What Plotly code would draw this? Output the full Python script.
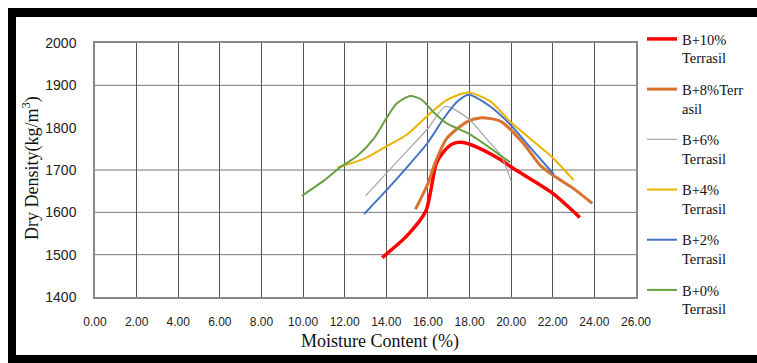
import plotly.graph_objects as go

# ---- data ----
names = ["B+10%<br>Terrasil", "B+8%Terr<br>asil", "B+6%<br>Terrasil",
         "B+4%<br>Terrasil", "B+2%<br>Terrasil", "B+0%<br>Terrasil"]

x_b10 = [13.8, 15.0, 15.9, 16.4, 16.75, 17.2, 17.7, 18.35, 19.5, 20.0, 22.0, 23.3]
y_b10 = [1493, 1545, 1603, 1715, 1743, 1762, 1765, 1754, 1724, 1707, 1645, 1588]

x_b8 = [15.4, 16.0, 16.3, 16.9, 17.85, 18.5, 19.5, 20.6, 21.4, 22.0, 23.0, 23.9]
y_b8 = [1607, 1668, 1711, 1774, 1813, 1823, 1815, 1762, 1711, 1688, 1656, 1621]

x_b6 = [13.0, 14.0, 15.0, 16.0, 16.85, 17.95, 18.8, 19.5, 20.0]
y_b6 = [1639, 1692, 1745, 1798, 1850, 1821, 1774, 1735, 1674]

x_b4 = [11.65, 12.0, 13.0, 13.94, 15.0, 16.0, 16.9, 17.95, 19.0, 20.0, 22.0, 23.0]
y_b4 = [1706, 1711, 1728, 1754, 1784, 1829, 1865, 1883, 1862, 1812, 1729, 1676]

x_b2 = [12.93, 14.0, 15.0, 16.0, 16.75, 17.4, 17.95, 19.0, 20.0, 20.9, 22.05]
y_b2 = [1596, 1652, 1707, 1765, 1821, 1861, 1878, 1850, 1805, 1754, 1690]

x_b0 = [9.94, 11.0, 11.8, 12.6, 13.4, 14.0, 14.5, 15.15, 15.7, 16.3, 16.9, 18.0, 19.95]
y_b0 = [1639, 1675, 1707, 1733, 1774, 1822, 1857, 1875, 1866, 1835, 1810, 1785, 1718]

xs = [x_b10, x_b8, x_b6, x_b4, x_b2, x_b0]
ys = [y_b10, y_b8, y_b6, y_b4, y_b2, y_b0]
colors = ["#FF0000", "#D9722E", "#A5A5A5", "#EDB100", "#4472C4", "#6AA043"]
widths = [3.5, 3.0, 1.2, 2.0, 2.0, 2.0]

x_ticks = [0, 2, 4, 6, 8, 10, 12, 14, 16, 18, 20, 22, 24, 26]
y_ticks = [1400, 1500, 1600, 1700, 1800, 1900, 2000]
y_grid = [1500, 1600, 1700, 1900]   # the reference shows no 1800 gridline

fig = go.Figure()
for i in range(len(names)):
    fig.add_trace(go.Scatter(
        x=xs[i], y=ys[i], mode="lines", name=names[i],
        legendgroup=str(i),
        line=dict(color=colors[i], width=widths[i], shape="spline", smoothing=0.7),
    ))

serif = "Liberation Serif, Times New Roman, serif"
sans = "Liberation Sans, Arial, sans-serif"

# plot area in pixels: left 95, right 636, top 43, bottom 297
W, H = 757, 363
L, R, T, B = 95, 636, 43, 297
pw, ph = R - L, B - T

def px(xp):
    return (xp - L) / pw

def py(yp):
    return (B - yp) / ph

shapes = [
    dict(type="line", xref="paper", yref="y", x0=0, x1=1, y0=g, y1=g,
         line=dict(color="#777777", width=1), layer="below")
    for g in y_grid
]
shapes += [
    dict(type="rect", xref="paper", yref="paper", x0=px(8), x1=px(757), y0=py(8), y1=py(17),
         fillcolor="black", line=dict(width=0), layer="above"),
    dict(type="rect", xref="paper", yref="paper", x0=px(8), x1=px(16), y0=py(8), y1=py(363),
         fillcolor="black", line=dict(width=0), layer="above"),
    dict(type="rect", xref="paper", yref="paper", x0=px(8), x1=px(757), y0=py(355), y1=py(363),
         fillcolor="black", line=dict(width=0), layer="above"),
]

fig.update_layout(
    width=W, height=H,
    margin=dict(l=L, r=W - R, t=T, b=H - B, autoexpand=False),
    paper_bgcolor="white", plot_bgcolor="white",
    shapes=shapes,
    showlegend=True,
    legend=dict(
        x=px(642), y=py(23), xanchor="left", yanchor="top",
        font=dict(family=serif, size=14.5, color="#111"),
        tracegroupgap=9.5, valign="top", traceorder="grouped",
        bgcolor="rgba(0,0,0,0)", maxheight=1.0,
    ),
    xaxis=dict(
        range=[0, 26], tickvals=x_ticks,
        ticktext=[f"{v:.2f}" for v in x_ticks],
        showgrid=True, gridcolor="#555555", gridwidth=1,
        showline=True, linecolor="#888888", linewidth=1.5, mirror=True,
        zeroline=False, ticks="", ticklabelstandoff=13,
        tickfont=dict(family=sans, size=12, color="#222"),
    ),
    yaxis=dict(
        range=[1400, 2000], tickvals=y_ticks,
        showgrid=False,
        showline=True, linecolor="#888888", linewidth=1.5, mirror=True,
        zeroline=False, ticks="", ticklabelstandoff=14,
        tickfont=dict(family=sans, size=14, color="#222"),
    ),
    annotations=[
        dict(text="Moisture Content (%)", xref="paper", yref="paper",
             x=px(380), y=py(341), xanchor="center", yanchor="middle",
             showarrow=False, font=dict(family=serif, size=18, color="#111")),
        dict(text="Dry Density(kg/m<sup>3</sup>)", xref="paper", yref="paper",
             x=px(31), y=py(168), xanchor="center", yanchor="middle", textangle=-90,
             showarrow=False, font=dict(family=serif, size=18, color="#111")),
    ],
)

fig.write_html("out.html")
